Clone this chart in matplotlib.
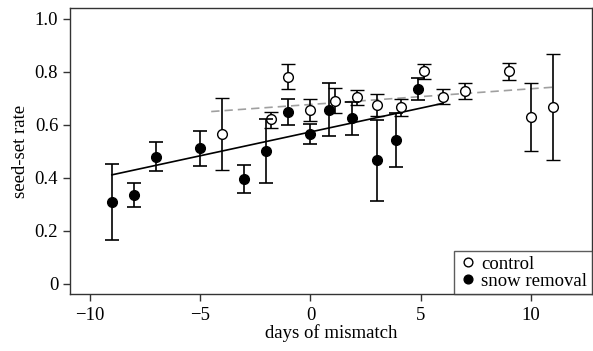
import matplotlib.pyplot as plt
import numpy as np

plt.rcParams['font.family'] = ['Liberation Serif', 'DejaVu Serif']

# control (open circles)
ctrl_x = [-4, -1.8, -1, 0, 1.12, 2.13, 3, 4.12, 5.13, 6, 7, 9, 10, 11]
ctrl_y = [0.565, 0.620, 0.781, 0.656, 0.691, 0.705, 0.676, 0.667, 0.802,
          0.706, 0.729, 0.802, 0.629, 0.669]
ctrl_hi = [0.701, 0.649, 0.829, 0.698, 0.740, 0.732, 0.717, 0.698, 0.828,
           0.737, 0.758, 0.834, 0.756, 0.868]
ctrl_lo = [0.431, 0.588, 0.735, 0.615, 0.644, 0.676, 0.634, 0.633, 0.774,
           0.677, 0.698, 0.770, 0.501, 0.468]

# snow removal (filled circles)
snow_x = [-9, -8, -7, -5, -3, -2, -1, 0, 0.86, 1.87, 3, 3.88, 4.86]
snow_y = [0.308, 0.335, 0.480, 0.512, 0.395, 0.502, 0.649, 0.566, 0.657,
          0.625, 0.466, 0.542, 0.735]
snow_hi = [0.453, 0.381, 0.535, 0.578, 0.448, 0.621, 0.698, 0.604, 0.758,
           0.686, 0.619, 0.644, 0.776]
snow_lo = [0.165, 0.290, 0.426, 0.445, 0.343, 0.382, 0.600, 0.529, 0.556,
           0.563, 0.313, 0.442, 0.692]

# fitted lines (end points)
snow_fit_x = [-9, 6]
snow_fit_y = [0.411, 0.681]
ctrl_fit_x = [-4.5, 11]
ctrl_fit_y = [0.650, 0.742]


def yerr(y, lo, hi):
    y = np.array(y)
    return [y - np.array(lo), np.array(hi) - y]


fig = plt.figure(figsize=(5.93, 3.51), dpi=100)
ax = fig.add_axes([0.118, 0.1615, 0.88, 0.815])

ax.plot(snow_fit_x, snow_fit_y, color='black', lw=1.2, zorder=2)
ax.plot(ctrl_fit_x, ctrl_fit_y, color='#a0a0a0', lw=1.2, ls=(0, (5, 3)),
        zorder=2)

ax.errorbar(ctrl_x, ctrl_y, yerr=yerr(ctrl_y, ctrl_lo, ctrl_hi), fmt='o',
            ms=7, mfc='white', mec='black', mew=1.0, ecolor='black',
            elinewidth=1.2, capsize=5, capthick=1.2, zorder=3,
            label='control')
ax.errorbar(snow_x, snow_y, yerr=yerr(snow_y, snow_lo, snow_hi), fmt='o',
            ms=7, mfc='black', mec='black', ecolor='black',
            elinewidth=1.2, capsize=5, capthick=1.2, zorder=4,
            label='snow removal')

ax.set_xlim(-10.9, 12.75)
ax.set_ylim(-0.04, 1.04)
ax.set_xticks([-10, -5, 0, 5, 10])
ax.set_xticklabels(['\u221210', '\u22125', '0', '5', '10'])
ax.set_yticks([0, 0.2, 0.4, 0.6, 0.8, 1.0])
ax.set_yticklabels(['0', '0.2', '0.4', '0.6', '0.8', '1.0'])
ax.tick_params(direction='out', length=5, width=1, labelsize=13.5,
               color='#333333')
ax.tick_params(axis='x', pad=4)
ax.tick_params(axis='y', pad=3.5)
for s in ax.spines.values():
    s.set_linewidth(1.0)
    s.set_color('#333333')

ax.set_xlabel('days of mismatch', fontsize=13.5, labelpad=0)
ax.set_ylabel('seed-set rate', fontsize=13.5, labelpad=4)

handles, labels = ax.get_legend_handles_labels()
handles = [h[0] for h in handles]
leg = ax.legend(handles, labels, loc='lower right', fontsize=13.5,
                frameon=True, fancybox=False, edgecolor='#333333',
                borderpad=0.25, handletextpad=0.2, handlelength=1.0,
                labelspacing=0.0, borderaxespad=0, markerscale=0.9)
leg.get_frame().set_linewidth(1.0)

fig.savefig('out.png', dpi=100)
